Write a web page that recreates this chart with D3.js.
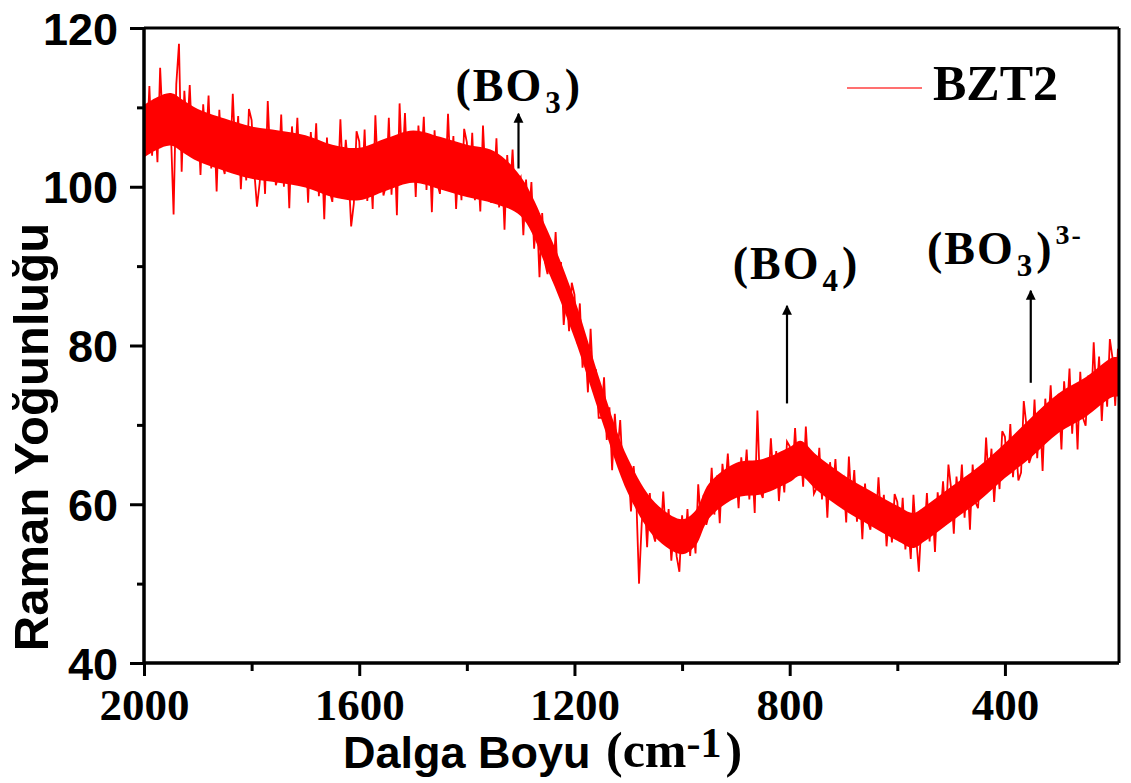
<!DOCTYPE html>
<html><head><meta charset="utf-8">
<script src="https://cdn.jsdelivr.net/npm/d3@7"></script>
<style>
html,body{margin:0;padding:0;background:#fff;}
svg{display:block;}
</style></head>
<body>
<svg id="chart" width="1131" height="783"></svg>
<script>
// ---- data ----
const seriesName = "BZT2";
const xStart = 2000, xStep = -5;           // sampling grid of the spectrum (cm^-1)
const intensity = [
111,104.7,112.7,103.9,109.3,103.1,115,107.5,111.6,105.4,
106.9,96.5,112.9,118,101.9,112.1,106.6,112.8,104.8,108.4,
109.4,101.5,110.4,105.1,111.5,102.3,108.6,99.4,109.7,103,
101.6,108,102.7,111.7,103.8,108.9,99.7,106.1,100.8,109.8,
108.4,101.9,97.5,100.5,105.7,99.1,110.8,102.9,106.7,100.2,
101.4,109.1,100,106.5,97.3,107.6,102.3,108.7,100.9,104.7,
105.9,98,106.9,101.6,108,98.8,105.1,95.9,106.2,99.5,
98.1,104.6,99.4,108.5,100.7,105.9,102,95,97.9,107,
105.7,99.3,107.2,98.2,103.5,97.2,109,101.3,105.3,98.9,
100.2,108.7,99,106.1,96.4,110.5,102.2,109.3,101,105.3,
106.6,98.7,107.7,102.4,108.8,99.6,106,96.8,107.1,100.5,
99.1,105.5,100.2,109.2,101.3,106.4,97.2,103.6,98.3,107.3,
105.6,99.6,106.8,98.3,103.1,96.9,107.7,100.5,104.1,98,
99.1,106.1,97.4,103.2,94.6,104,98.9,104.7,97.3,100.6,
101.2,93.9,100.9,95.8,100.6,92.2,97,88.6,96.7,90.5,
89,93.1,88.2,94.3,87.4,90.5,82.6,86.7,81.8,87.9,
86.4,80.3,85.3,77.2,80.2,74.1,82.1,75,77,70.9,
70.9,76,68.1,72.2,64.3,71.4,66.5,70.6,63.7,65.8,
65.1,59.1,64.8,60.6,50,57.6,61.5,54.6,61.4,56.6,
55.3,59.5,55.6,61.6,56,59.4,52.9,57.2,53.4,51.5,
58.6,54,59.4,53.5,57.7,53.8,62.5,57.8,61.2,57.4,
58.8,64.6,58.7,63.6,57.6,65.1,61.7,66.4,61.2,64,
64.9,59.5,65.9,62.3,66.9,60.6,65.2,58.9,71.8,61.7,
60.8,65.4,61.9,68.3,63,66.7,60.4,65,61.5,67.9,
67.3,63.5,69.6,63.7,67.1,62.2,69.8,63.9,66.2,61.3,
62,67.1,60.6,64.8,58.3,65.3,61.4,65.7,60.1,62.6,
63.3,57.7,66,60,64.3,57.8,62.1,55.6,62.6,57.9,
56.8,61.1,57.3,63.4,57.8,61.2,54.7,59,55.2,61.3,
60.3,55.6,60.8,54.3,57.7,53.1,61.2,55.9,51.5,58,
55.7,61.4,55.3,60.1,54,61.5,58.1,62.9,57.7,65,
62,56.3,63.5,59.8,65,58.3,63.5,56.8,65,60.3,
59.5,64.8,61.1,68.4,62.7,67,60.3,65.6,61.9,69.2,
68.5,63.8,70.1,63.4,67.7,63,64,73,69.9,65.2,
66.3,73.2,65.8,71.6,64.2,73.3,69.2,75,68.7,72.3,
73.9,66.9,75.5,70.9,77.1,68.9,75.1,66.9,76.7,70.9,
69.9,76.2,71.7,80.4,73.5,78.6,70.5,76.8,72.3,80.8,
78.4,72.4,79.6,74.8
];
const wavenumber = intensity.map((_, i) => xStart + i * xStep);

// dense core of the noisy trace (upper / lower edge of the solid red band)
const coreX     = [2000,1975,1950,1925,1900,1850,1800,1750,1700,1650,1600,1550,1500,1450,1400,1350,1300,1250,1200,1150,1100,1050,1000,975,950,900,850,800,780,750,700,650,600,570,550,500,450,400,350,300,250,200,185];
const coreUpper = [110.3,111.3,111.8,110.8,109.8,108.6,107.6,107.1,106.5,105.3,104.9,106.1,107.1,106.3,105.3,104.5,101.3,94.5,85.9,75.1,65.7,60.2,58.1,59.2,62.6,65.2,65.7,67.2,68,66.2,63.7,61.7,59.8,58.9,59.7,62.2,64.7,67.7,71,74,76,78.5,78.5];
const coreLower = [103.7,104.7,105.2,104.2,103.2,102,101,100.5,99.9,98.7,98.3,99.5,100.5,99.7,98.7,97.9,96.3,89.5,80.9,70.7,61.3,55.8,53.7,54.8,58.2,60.8,61.3,62.8,63.6,61.8,59.3,57.3,55.4,54.5,55.3,57.8,60.3,63.3,66,69,71,73.5,73.5];

const xDomain = [2000, 188];
const yDomain = [40, 120];
const xMajorTicks = [2000, 1600, 1200, 800, 400];
const xMinorTicks = [1800, 1400, 1000, 600];
const yMajorTicks = [40, 60, 80, 100, 120];
const yMinorTicks = [50, 70, 90, 110];

const xLabelMain = "Dalga Boyu";
const yLabel = "Raman Yoğunluğu";

// annotations (data units)
const annotations = [
  {base: "(BO", sub: "3", close: ")", sup: "",   tx: 1421, ty: 110.8, ax: 1304, ay0: 102.3, ay1: 109.2},
  {base: "(BO", sub: "4", close: ")", sup: "",   tx: 906,  ty: 88.4,  ax: 805,  ay0: 72.7,  ay1: 85.0},
  {base: "(BO", sub: "3", close: ")", sup: "3-", tx: 545,  ty: 90.3,  ax: 352,  ay0: 75.3,  ay1: 86.9}
];

// ---- drawing ----
const svg = d3.select("#chart");
const L = 144, R = 1119, T = 28, B = 663;
const x = d3.scaleLinear().domain(xDomain).range([L, R]);
const y = d3.scaleLinear().domain(yDomain).range([B, T]);

const serif = "'Liberation Serif','Times New Roman',serif";
const sans = "'Liberation Sans',Arial,sans-serif";

const defs = svg.append("defs");
defs.append("clipPath").attr("id", "plotclip")
  .append("rect").attr("x", L).attr("y", T).attr("width", R - L).attr("height", B - T);
defs.append("marker").attr("id", "arrow")
  .attr("viewBox", "0 0 10 10").attr("refX", 9).attr("refY", 5)
  .attr("markerWidth", 4.5).attr("markerHeight", 6).attr("orient", "auto")
  .attr("markerUnits", "strokeWidth")
  .append("path").attr("d", "M0,0 L10,5 L0,10 Z").attr("fill", "#000");

const plot = svg.append("g").attr("clip-path", "url(#plotclip)");

const core = coreX.map((w, i) => [w, coreLower[i], coreUpper[i]]);
plot.append("path")
  .datum(core)
  .attr("fill", "#ff0000")
  .attr("d", d3.area().x(d => x(d[0])).y0(d => y(d[1])).y1(d => y(d[2])).curve(d3.curveCatmullRom));

const pts = wavenumber.map((w, i) => [w, intensity[i]]);
plot.append("path")
  .datum(pts)
  .attr("fill", "none")
  .attr("stroke", "#ff0000")
  .attr("stroke-width", 1.8)
  .attr("d", d3.line().x(d => x(d[0])).y(d => y(d[1])));

// frame top/right
svg.append("line").attr("x1", L).attr("x2", R).attr("y1", T).attr("y2", T)
  .attr("stroke", "#000").attr("stroke-width", 3);
svg.append("line").attr("x1", R).attr("x2", R).attr("y1", T).attr("y2", B)
  .attr("stroke", "#000").attr("stroke-width", 3);

// x axis
const gx = svg.append("g").attr("transform", `translate(0,${B})`);
gx.call(d3.axisBottom(x).tickValues(xMinorTicks).tickSize(8).tickFormat(""));
const gxM = svg.append("g").attr("transform", `translate(0,${B})`);
gxM.call(d3.axisBottom(x).tickValues(xMajorTicks).tickSize(13).tickFormat(d3.format("d")));
[gx, gxM].forEach(g => {
  g.select(".domain").attr("stroke-width", 3).attr("d", `M${L},0H${R}`);
  g.selectAll(".tick line").attr("stroke-width", 3);
});
gxM.selectAll(".tick text").attr("y", 25).attr("dy", "0.71em")
  .attr("font-family", serif).attr("font-weight", "bold").attr("font-size", 45).attr("fill", "#000");

// y axis
const gy = svg.append("g").attr("transform", `translate(${L},0)`);
gy.call(d3.axisLeft(y).tickValues(yMinorTicks).tickSize(7).tickFormat(""));
const gyM = svg.append("g").attr("transform", `translate(${L},0)`);
gyM.call(d3.axisLeft(y).tickValues(yMajorTicks).tickSize(14).tickFormat(d3.format("d")));
[gy, gyM].forEach(g => {
  g.select(".domain").attr("stroke-width", 3).attr("d", `M0,${T}V${B}`);
  g.selectAll(".tick line").attr("stroke-width", 3);
});
gyM.selectAll(".tick text").attr("x", -26).attr("dy", "0.36em")
  .attr("font-family", sans).attr("font-weight", "bold").attr("font-size", 45).attr("fill", "#000");

// axis titles
svg.append("text")
  .attr("transform", "translate(48,437) rotate(-90)")
  .attr("text-anchor", "middle")
  .attr("font-family", sans).attr("font-weight", "bold").attr("font-size", 49)
  .text(yLabel);

svg.append("text").attr("x", 343).attr("y", 768)
  .attr("font-family", sans).attr("font-weight", "bold").attr("font-size", 45)
  .text(xLabelMain);
const xu = svg.append("text").attr("x", 606).attr("y", 767)
  .attr("font-family", serif).attr("font-weight", "bold").attr("font-size", 50);
xu.append("tspan").text("(cm");
xu.append("tspan").attr("dy", -10).attr("font-size", 42).text("-1");
xu.append("tspan").attr("dy", 10).attr("dx", 4).text(")");

// annotations
annotations.forEach(a => {
  const t = svg.append("text").attr("x", x(a.tx)).attr("y", y(a.ty))
    .attr("font-family", serif).attr("font-weight", "bold").attr("font-size", 46)
    .attr("letter-spacing", 2);
  t.append("tspan").text(a.base);
  t.append("tspan").attr("font-size", 31).attr("dy", 12).attr("dx", 2).text(a.sub);
  t.append("tspan").attr("dy", -12).attr("dx", 2).text(a.close);
  if (a.sup) t.append("tspan").attr("font-size", 28).attr("dy", -20).attr("dx", 2).text(a.sup);
  svg.append("line")
    .attr("x1", x(a.ax)).attr("x2", x(a.ax))
    .attr("y1", y(a.ay0)).attr("y2", y(a.ay1))
    .attr("stroke", "#000").attr("stroke-width", 2.2)
    .attr("marker-end", "url(#arrow)");
});

// legend
svg.append("line").attr("x1", 847).attr("x2", 922).attr("y1", 88).attr("y2", 88)
  .attr("stroke", "#ff4040").attr("stroke-width", 1.6);
svg.append("text").attr("x", 933).attr("y", 100)
  .attr("font-family", serif).attr("font-weight", "bold").attr("font-size", 50)
  .text(seriesName);
</script>
</body></html>
